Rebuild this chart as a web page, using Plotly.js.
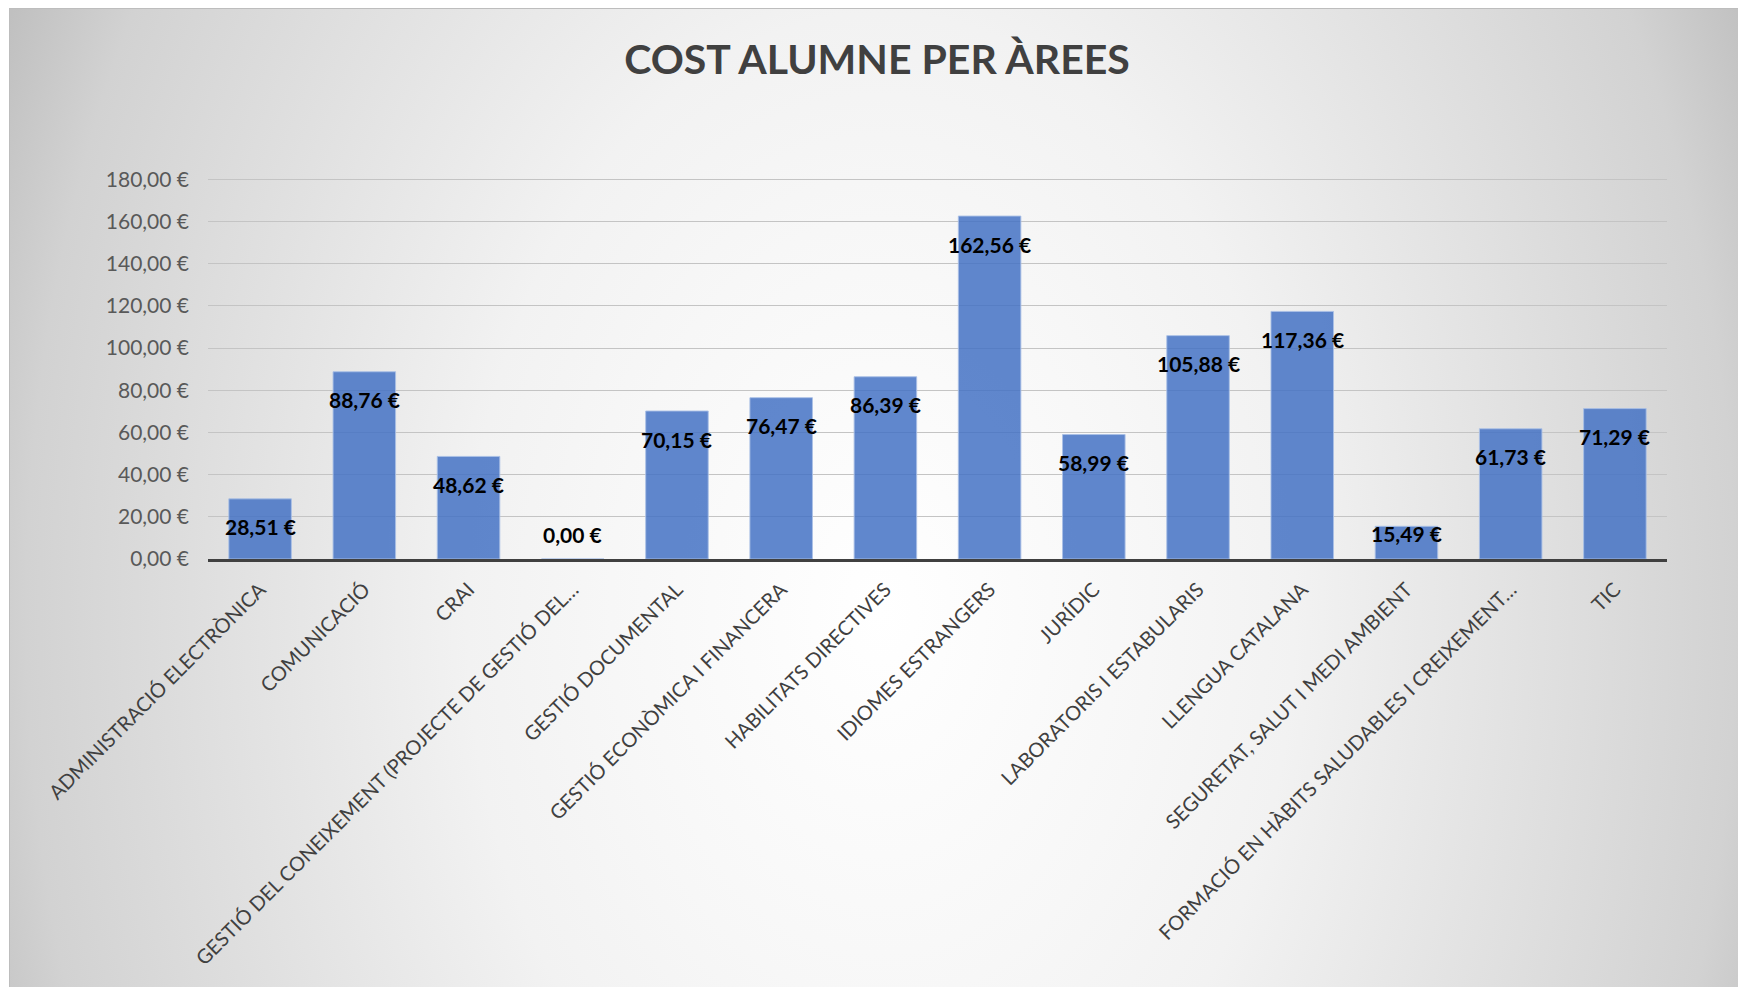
<!DOCTYPE html>
<html>
<head>
<meta charset="utf-8">
<script src="https://cdn.plot.ly/plotly-3.0.1.min.js"></script>
<style>
  html, body { margin: 0; padding: 0; background: #ffffff; }
  #frame {
    position: absolute; left: 9px; top: 8px; width: 1729px; height: 979px;
    box-sizing: border-box; border-left: 1px solid #bdbdbd; border-top: 1px solid #bdbdbd;
    background: radial-gradient(ellipse 900px 1300px at 871px 602px, #ffffff 0%, #f7f7f7 30%, #f2f2f2 46%, #d2d2d2 95%, #c0c0c0 107%);
  }
  #chart { position: absolute; left: 0; top: 0; width: 1738px; height: 987px; }
</style>
</head>
<body>
<div id="frame"></div>
<div id="chart"></div>
<script>
const categories = [
  "ADMINISTRACIÓ ELECTRÒNICA",
  "COMUNICACIÓ",
  "CRAI",
  "GESTIÓ DEL CONEIXEMENT (PROJECTE DE GESTIÓ DEL…",
  "GESTIÓ DOCUMENTAL",
  "GESTIÓ ECONÒMICA I FINANCERA",
  "HABILITATS DIRECTIVES",
  "IDIOMES ESTRANGERS",
  "JURÍDIC",
  "LABORATORIS I ESTABULARIS",
  "LLENGUA CATALANA",
  "SEGURETAT, SALUT I MEDI AMBIENT",
  "FORMACIÓ EN HÀBITS SALUDABLES I CREIXEMENT…",
  "TIC"
];
const costValues = [28.51, 88.76, 48.62, 0.00, 70.15, 76.47, 86.39, 162.56, 58.99, 105.88, 117.36, 15.49, 61.73, 71.29];
const yTickValues = [0, 20, 40, 60, 80, 100, 120, 140, 160, 180];
const yTickLabels = ["0,00 €", "20,00 €", "40,00 €", "60,00 €", "80,00 €", "100,00 €", "120,00 €", "140,00 €", "160,00 €", "180,00 €"];
const chartTitle = "COST ALUMNE PER ÀREES";

function euro(v) { return v.toFixed(2).replace('.', ',') + ' €'; }

const W = 1738, H = 987;
const margin = { l: 208, r: 71, t: 178, b: 428 };
const yMax = 180.6;
const pxPerUnit = (H - margin.t - margin.b) / yMax;

const trace = {
  type: 'bar',
  x: categories,
  y: costValues,
  marker: { color: 'rgba(68,114,196,0.85)', line: { color: 'rgba(170,192,230,0.9)', width: 1 } },
  hoverinfo: 'none',
  textposition: 'none'
};

const annotations = costValues.map((v, i) => ({
  x: categories[i],
  y: v,
  xref: 'x', yref: 'y',
  text: '<b>' + euro(v) + '</b>',
  showarrow: false,
  yanchor: 'middle',
  xanchor: 'center',
  yshift: -Math.min(28, v * pxPerUnit - 25),
  font: { family: 'Lato, sans-serif', size: 21, color: '#000000' }
}));

const layout = {
  width: W, height: H,
  margin: margin,
  paper_bgcolor: 'rgba(0,0,0,0)',
  plot_bgcolor: 'rgba(0,0,0,0)',
  showlegend: false,
  bargap: 0.4,
  title: {
    text: '<b>' + chartTitle + '</b>',
    font: { family: 'Lato, sans-serif', size: 41, color: '#404040' },
    xref: 'container', yref: 'container',
    x: 877 / W, y: 1 - 60 / H, xanchor: 'center', yanchor: 'middle'
  },
  xaxis: {
    type: 'category',
    tickangle: -45,
    tickfont: { family: 'Lato, sans-serif', size: 20, color: '#404040' },
    showgrid: false,
    showline: true, linecolor: '#404040', linewidth: 3,
    ticks: '',
    ticklabelstandoff: 8,
    zeroline: false,
    fixedrange: true
  },
  yaxis: {
    range: [0, yMax],
    tickvals: yTickValues,
    ticktext: yTickLabels,
    tickfont: { family: 'Lato, sans-serif', size: 21, color: '#595959' },
    showgrid: true, gridcolor: '#c4c4c4', gridwidth: 1,
    zeroline: false,
    showline: false,
    ticks: '',
    ticklabelstandoff: 18,
    fixedrange: true
  },
  annotations: annotations
};

Plotly.newPlot('chart', [trace], layout, { displayModeBar: false, staticPlot: true });
</script>
</body>
</html>
